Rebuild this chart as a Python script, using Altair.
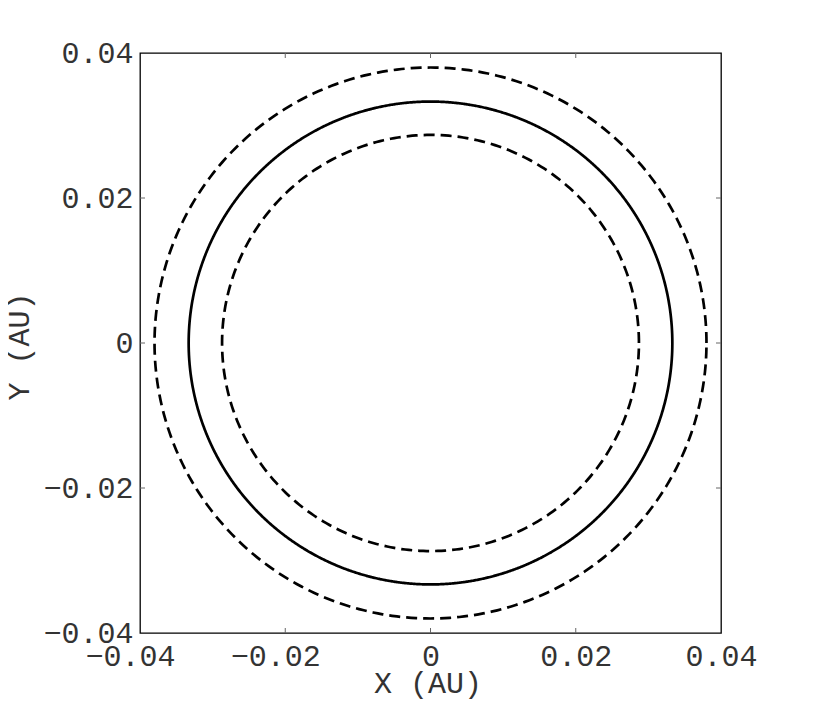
import altair as alt
import numpy as np
import pandas as pd

# Orbit radii (AU)
ring_names = ["inner", "orbit", "outer"]
ring_radii = [0.0287, 0.0333, 0.0380]
ring_dashed = [True, False, True]

tick_values = [-0.04, -0.02, 0.0, 0.02, 0.04]
x_title = "X (AU)"
y_title = "Y (AU)"

FONT = "Liberation Mono"
TXT = "#333333"
W, H = 581, 580

# circle outlines from radii
ang = np.linspace(0, 2 * np.pi, 361)
rows = []
for name, r, d in zip(ring_names, ring_radii, ring_dashed):
    for i, a in enumerate(ang):
        rows.append({"ring": name, "x": r * np.cos(a), "y": r * np.sin(a), "o": i, "dashed": d})
circ = pd.DataFrame(rows)

xs = alt.Scale(domain=[-0.04, 0.04], nice=False, zero=False)
ys = alt.Scale(domain=[-0.04, 0.04], nice=False, zero=False)

lab = "datum.value == 0 ? '0' : format(datum.value, '.2f')"

xaxis = alt.Axis(values=tick_values, labelExpr=lab, labelFont=FONT, labelFontSize=30,
                 labelColor=TXT, labelPadding=8, tickSize=0, grid=False, domain=False,
                 labelOffset={"condition": {"test": "datum.value < 0", "value": -10}, "value": 0},
                 title=x_title, titleFont=FONT, titleFontSize=30, titleFontWeight="normal",
                 titleColor=TXT, titleY=59, titleBaseline="alphabetic", titleX=W / 2 - 3,
                 labelFlush=False, labelOverlap=False)
yaxis = alt.Axis(values=tick_values, labelExpr=lab, labelFont=FONT, labelFontSize=30,
                 labelColor=TXT, labelPadding=7, tickSize=0, grid=False, domain=False,
                 title=y_title, titleFont=FONT, titleFontSize=30, titleFontWeight="normal",
                 titleColor=TXT, titleX=-121, titleY=H / 2 + 3, titleAngle=270,
                 titleBaseline="middle", titleAlign="center",
                 labelFlush=False, labelOverlap=False)

layers = []
for name, d in zip(ring_names, ring_dashed):
    sub = circ[circ.ring == name]
    m = alt.Chart(sub).mark_line(color="black", strokeWidth=2.7,
                                 strokeDash=[11, 6] if d else [1, 0])
    if not layers:
        m = m.encode(x=alt.X("x:Q", scale=xs, axis=xaxis),
                     y=alt.Y("y:Q", scale=ys, axis=yaxis), order="o:Q")
    else:
        m = m.encode(x=alt.X("x:Q", scale=xs), y=alt.Y("y:Q", scale=ys), order="o:Q")
    layers.append(m)

tdf = pd.DataFrame({"t": tick_values[1:-1]})
tick_style = dict(color="#666666", strokeWidth=1)
layers.append(alt.Chart(tdf).mark_rule(**tick_style).encode(
    x=alt.X("t:Q", scale=xs), y=alt.value(H), y2=alt.value(H - 5)))
layers.append(alt.Chart(tdf).mark_rule(**tick_style).encode(
    x=alt.X("t:Q", scale=xs), y=alt.value(0), y2=alt.value(5)))
layers.append(alt.Chart(tdf).mark_rule(**tick_style).encode(
    y=alt.Y("t:Q", scale=ys), x=alt.value(0), x2=alt.value(5)))
layers.append(alt.Chart(tdf).mark_rule(**tick_style).encode(
    y=alt.Y("t:Q", scale=ys), x=alt.value(W), x2=alt.value(W - 5)))

chart = alt.layer(*layers).properties(
    width=W, height=H,
    autosize=alt.AutoSizeParams(type="none"),
    padding={"left": 132, "top": 45, "right": 60, "bottom": 70},
).configure(background="white").configure_view(stroke="black", strokeWidth=1.3)

chart.save("out.html", embed_options={"renderer": "svg", "actions": False})
